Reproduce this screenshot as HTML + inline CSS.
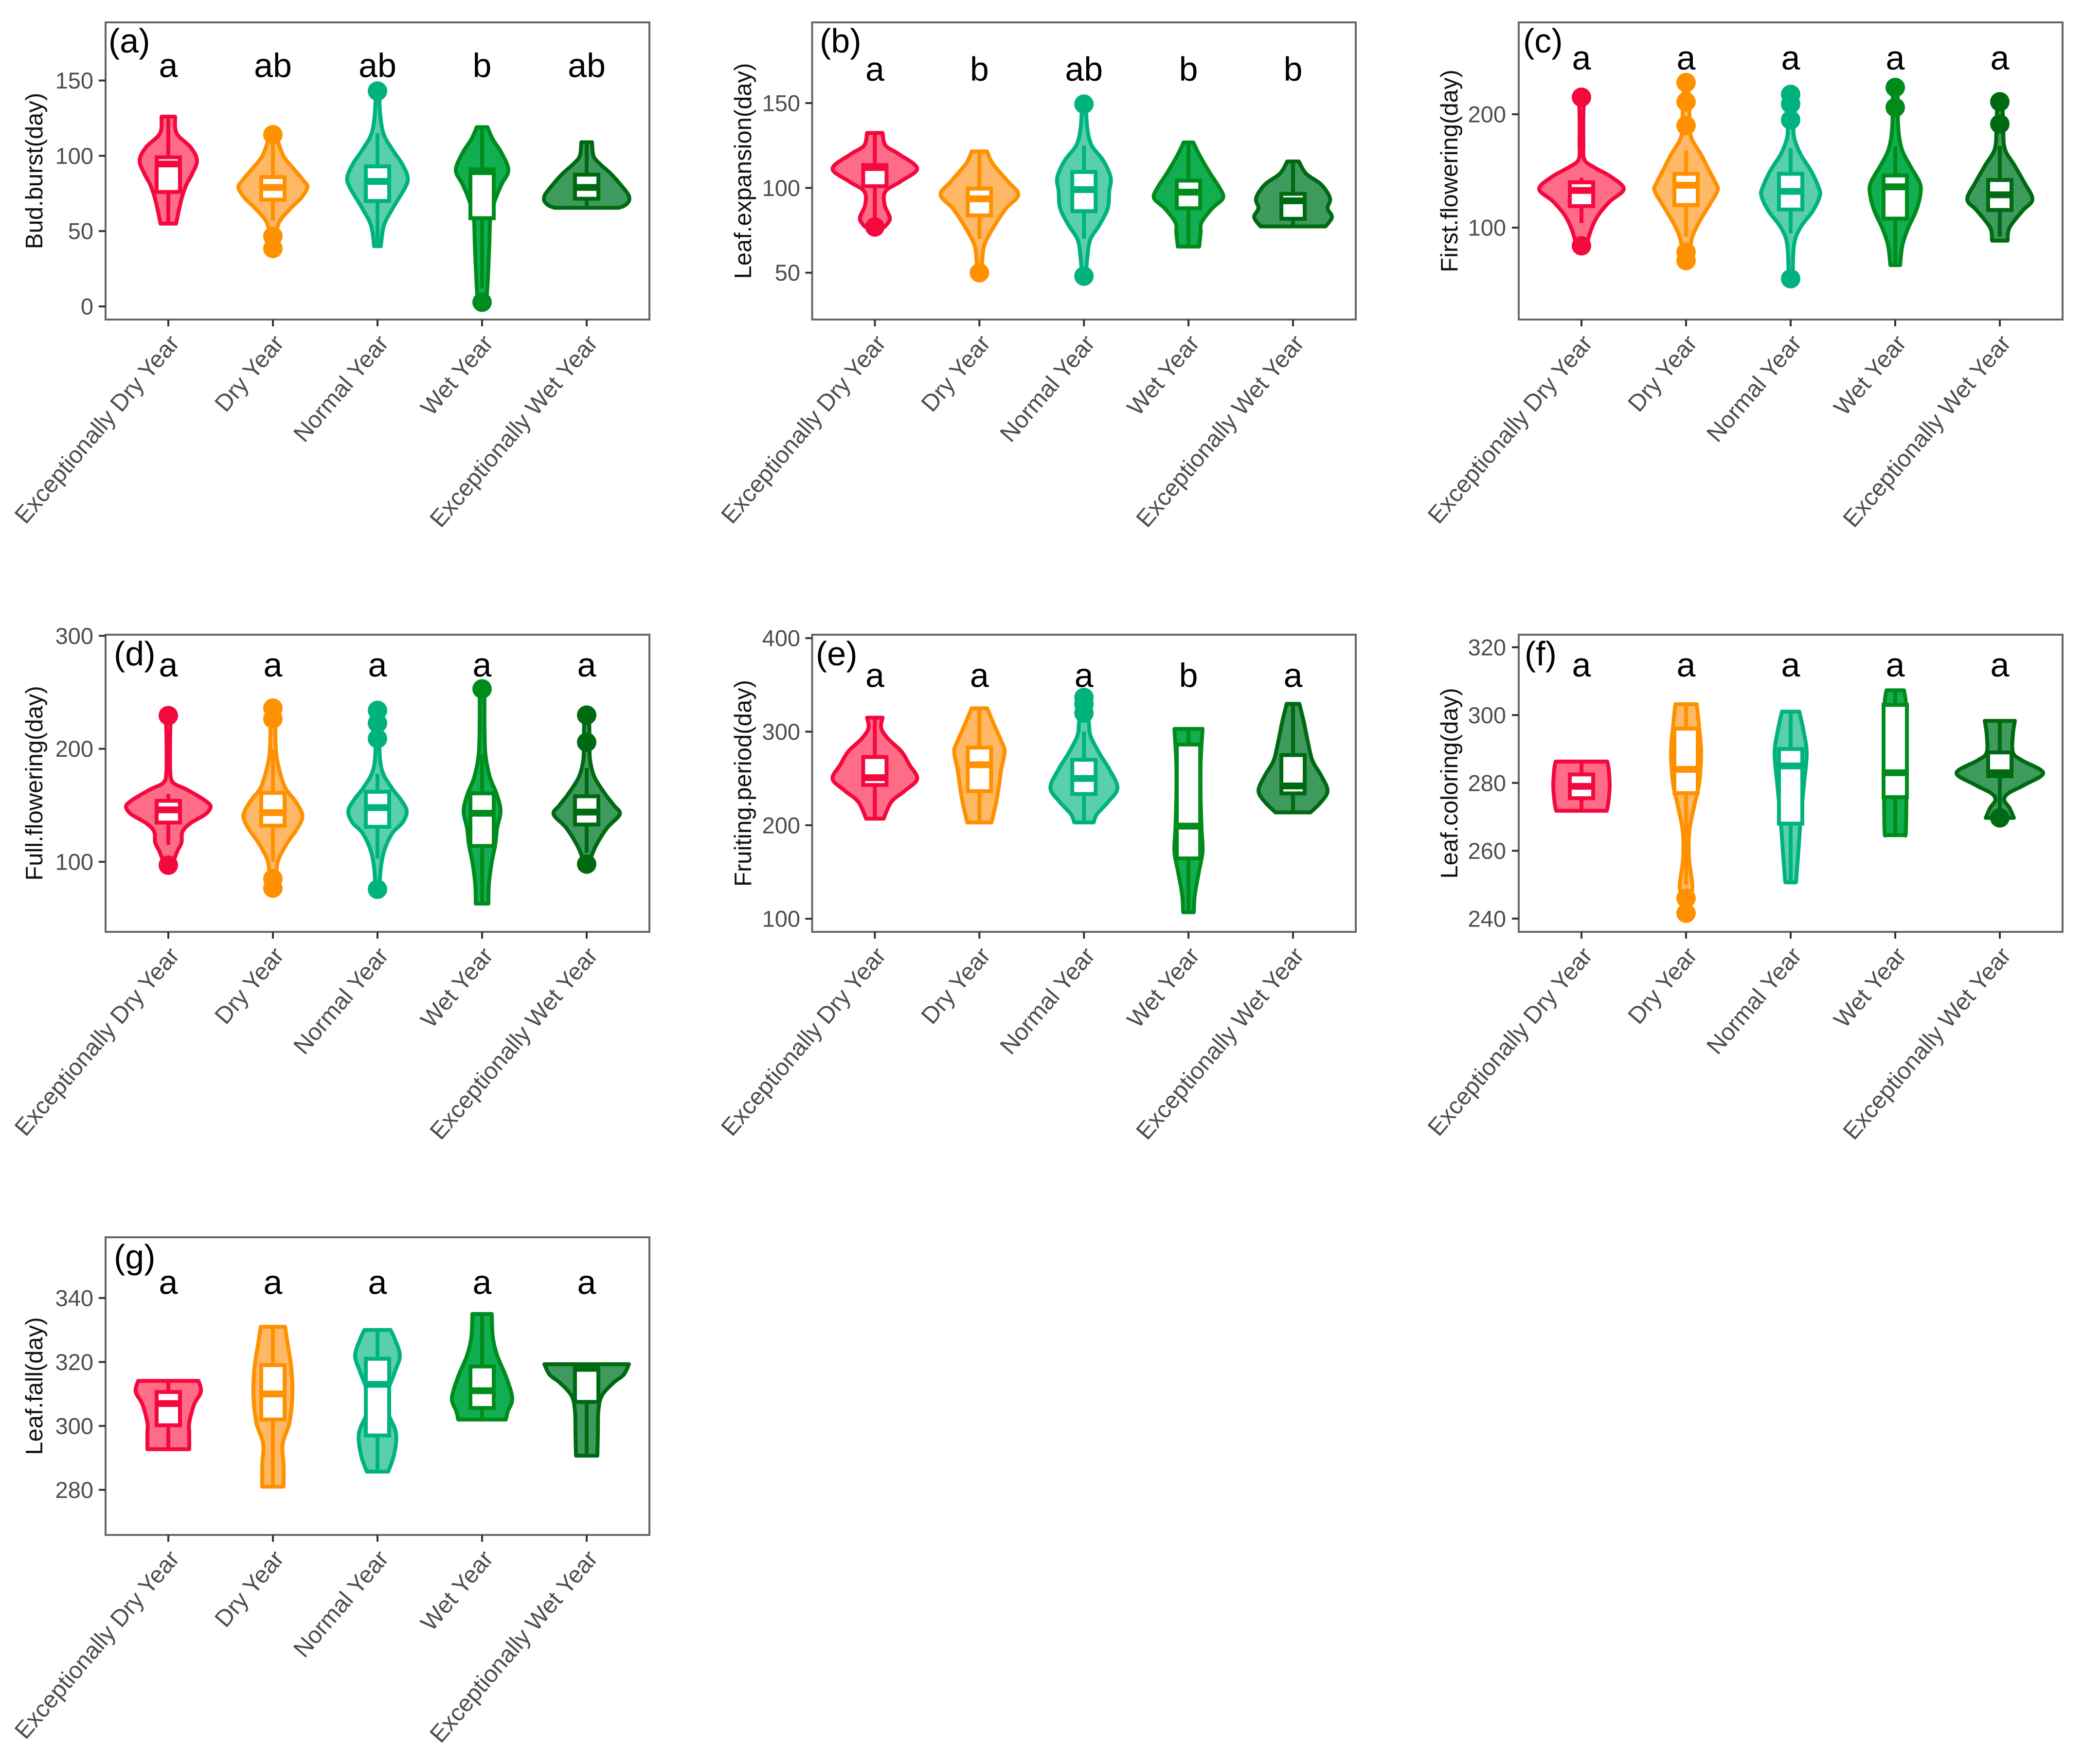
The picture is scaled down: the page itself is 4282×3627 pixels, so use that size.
<!DOCTYPE html>
<html lang="en">
<head>
<meta charset="utf-8">
<title>Phenology violin plots</title>
<style>
html,body{margin:0;padding:0;background:#fff;}
svg{display:block;font-family:"Liberation Sans",Arial,sans-serif;}
</style>
</head>
<body>
<svg id="chart" xmlns="http://www.w3.org/2000/svg" width="4282" height="3627" viewBox="0 0 4282 3627"></svg>
<script>
const categories = ["Exceptionally Dry Year","Dry Year","Normal Year","Wet Year","Exceptionally Wet Year"];

/* Panel (a) Bud.burst */
const aTicks = [0,50,100,150];
const aLetters = ["a","ab","ab","b","ab"];
const aProfiles = [
 [[126,.14],[115,.17],[105.6,.46],[97,.59],[88,.49],[80,.36],[70,.26],[55,.16]],
 [[114,.05],[111,.09],[99.7,.22],[90.5,.45],[83.5,.63],[79,.71],[72,.58],[65,.36],[56,.13],[46.6,.07],[38,.05]],
 [[143,.04],[130,.05],[115,.12],[104,.31],[95,.5],[86,.62],[79,.57],[65,.31],[53.5,.13],[40,.07]],
 [[119,.11],[111,.22],[102,.4],[90.5,.54],[81,.4],[70,.26],[58,.17],[42,.15],[19,.12],[5,.09],[3,.05]],
 [[109,.11],[100,.14],[95,.26],[88,.5],[80,.72],[74,.86],[70,.87],[67,.78],[65.5,.66]]
];
const aBoxes = [[55,76,94.6,99,126],[57,70.9,79,85.9,109],[40,70,83,93,115],[12,58.6,89.5,91,119],[65.5,71.5,79,87.5,109]];
const aOutliers = [[],[114,46.6,38.5],[143],[2.8],[]];

/* Panel (b) Leaf.expansion */
const bTicks = [50,100,150];
const bLetters = ["a","b","ab","b","b"];
const bProfiles = [
 [[132.4,.16],[125,.22],[120,.49],[111.5,.87],[104,.54],[98,.22],[90,.2],[82,.31],[77,.2]],
 [[121.5,.16],[114.5,.27],[104,.58],[96,.8],[88,.55],[77.7,.31],[67,.11],[58,.06],[50,.05]],
 [[149,.04],[135,.07],[125,.16],[116,.4],[106,.55],[98,.52],[88,.49],[77.7,.31],[69.5,.13],[59,.07],[48,.04]],
 [[126.8,.1],[118.6,.24],[108.4,.45],[100,.64],[94,.71],[88,.49],[79.7,.27],[73.5,.25],[65.4,.22]],
 [[115.6,.12],[108.4,.27],[102,.58],[94,.76],[88,.71],[82.8,.8],[77.3,.67]]
];
const bBoxes = [[80,101,112,113.5,132],[70,83.8,93.6,99.6,121],[70,86.3,99,109.4,125],[66,88,97.5,104.3,126],[77,81.8,92.4,96.5,115]];
const bOutliers = [[77],[50],[149.4,48],[],[]];

/* Panel (c) First.flowering */
const cTicks = [100,200];
const cLetters = ["a","a","a","a","a"];
const cProfiles = [
 [[215,.06],[200,.04],[175,.04],[160,.06],[153,.27],[144.5,.62],[134,.87],[123,.58],[110.7,.34],[98.5,.2],[84,.1]],
 [[228,.05],[190,.08],[178,.12],[165,.3],[150,.48],[140,.6],[133,.65],[120,.48],[105,.27],[92,.13],[80,.08],[71,.05]],
 [[217,.05],[195,.06],[180,.07],[165,.2],[150,.42],[135,.58],[128,.6],[115,.46],[100,.2],[85,.07],[55,.04]],
 [[224,.05],[190,.06],[170,.13],[155,.3],[140,.5],[130,.52],[115,.43],[100,.27],[85,.15],[67,.1]],
 [[211,.05],[191,.07],[170,.1],[155,.3],[140,.5],[125,.67],[115,.47],[100,.2],[88.6,.16]]
];
const cBoxes = [[104,119,132.8,140,144],[92,120,137.4,147.5,168],[95,116,132,147.5,170],[67,108,136,146,172],[92,115.6,129,142,172]];
const cOutliers = [[215,84],[228,211,190,78.5,71],[217.5,209,195,55],[223.6,206],[211,191.4]];

/* Panel (d) Full.flowering */
const dTicks = [100,200,300];
const dLetters = ["a","a","a","a","a"];
const dProfiles = [
 [[229,.06],[215,.04],[180,.04],[170,.1],[165,.33],[159,.58],[153.5,.78],[148.7,.87],[142,.76],[134,.45],[126.6,.29],[117,.27],[109,.18],[97,.08]],
 [[236,.05],[200,.06],[180,.14],[165,.26],[155,.44],[145,.58],[138,.6],[128,.48],[115,.27],[100,.1],[85,.07],[77,.05]],
 [[234,.05],[200,.04],[180,.1],[165,.3],[155,.48],[145,.6],[135,.52],[125,.3],[110,.14],[95,.07],[76,.04]],
 [[253,.05],[220,.05],[195,.07],[175,.16],[160,.3],[145,.38],[130,.31],[115,.27],[100,.2],[80,.14],[63,.13]],
 [[230,.05],[205,.06],[190,.07],[175,.16],[160,.38],[150,.56],[142,.68],[130,.42],[115,.2],[105,.1],[98,.06]]
];
const dBoxes = [[115,134.7,146,154,160],[100,132,143.5,161,200],[103,131,148,162,178],[63,114,143,160.6,195],[108,133,144,158,183]];
const dOutliers = [[229.4,97],[236,226.5,85,76.7],[234,222.7,209,75.7],[253],[229.8,205.8,98]];

/* Panel (e) Fruiting.period */
const eTicks = [100,200,300,400];
const eLetters = ["a","a","a","b","a"];
const eProfiles = [
 [[315,.16],[304,.13],[292.6,.27],[278.7,.55],[264.7,.71],[249.6,.87],[237,.62],[225,.34],[207,.18]],
 [[325,.16],[306.5,.31],[290,.45],[278.7,.52],[260,.45],[241.5,.4],[223,.34],[203,.25]],
 [[336,.04],[310,.1],[295,.14],[275,.34],[260,.52],[240,.69],[225,.5],[212,.27],[203,.2]],
 [[303,.29],[287,.27],[264.7,.25],[230,.25],[195,.27],[172,.29],[149,.21],[125.5,.13],[107,.11]],
 [[329.7,.13],[311,.22],[288,.31],[269,.4],[253,.58],[237,.71],[225,.58],[213.7,.36]]
];
const eBoxes = [[207,243,250.8,272.9,315],[203,236.4,264.7,283,325],[203,233.4,250,270,300],[107,164.5,199,286.3,303],[214,234,242,275,329]];
const eOutliers = [[],[],[336.6,329.7,320],[],[]];

/* Panel (f) Leaf.coloring */
const fTicks = [240,260,280,300,320];
const fLetters = ["a","a","a","a","a"];
const fProfiles = [
 [[286.3,.53],[284,.56],[279,.58],[274,.55],[271.8,.52]],
 [[303.2,.22],[296.3,.27],[289,.31],[280,.27],[274,.18],[266,.07],[258,.06],[250,.13],[247,.1],[241,.05]],
 [[301,.18],[295,.27],[288.6,.33],[279,.27],[268,.2],[260,.16],[250.7,.11]],
 [[307.3,.18],[303,.22],[292,.22],[279,.23],[266,.22],[264.6,.2]],
 [[298.3,.31],[294.4,.27],[289,.27],[286.7,.45],[283,.89],[279.6,.53],[277,.18],[275,.09],[272.6,.2],[269.7,.29]]
];
const fBoxes = [[272,275.5,279,282.5,286],[250,277,284,296,303],[251,268,285,290,301],[265,275.8,283,303,307],[272,282,283,289,298]];
const fOutliers = [[],[246,241.6],[],[],[269.7]];

/* Panel (g) Leaf.fall */
const gTicks = [280,300,320,340];
const gLetters = ["a","a","a","a","a"];
const gProfiles = [
 [[314.1,.62],[310.7,.67],[306.7,.53],[301,.43],[298,.43],[292.7,.43]],
 [[331,.25],[325,.31],[318,.38],[309.4,.4],[301,.34],[294.4,.2],[287.6,.22],[281,.22]],
 [[330,.27],[327,.36],[322,.46],[317,.36],[309.4,.18],[304.6,.2],[297.8,.38],[291,.34],[285.7,.22]],
 [[335,.2],[327.8,.22],[322,.31],[315.5,.49],[308.7,.62],[304.6,.53],[302,.49]],
 [[319.3,.87],[316,.76],[313.5,.55],[309.4,.31],[304.6,.24],[297.8,.23],[290.7,.22]]
];
const gBoxes = [[293,300.2,307,310.6,314],[281,302,310,319,331],[286,297,313,321,330],[302,305.6,311,318.6,335],[291,307.5,318,319,319.3]];
const gOutliers = [[],[],[],[],[]];

const strokeColors = ["#F4093F","#FF9100","#00B37E","#008C1C","#006A12"];
const fillColors = ["#FF6C88","#FFB866","#5ACFAC","#12AE52","#3F9A5E"];

const panels = [
 {id:"a",title:"Bud.burst(day)",tag:"(a)",left:217,right:1335,top:46,bottom:657,vmin:-8.7,vmax:188.6,tlx:192,titleX:70,tagX:223,tagY:108,letterY:158.5,ticks:aTicks,letters:aLetters,profiles:aProfiles,boxes:aBoxes,outliers:aOutliers},
 {id:"b",title:"Leaf.expansion(day)",tag:"(b)",left:1669.5,right:2787,top:46,bottom:657,vmin:22.4,vmax:197.6,tlx:1645,titleX:1527,tagX:1685,tagY:108,letterY:166,ticks:bTicks,letters:bLetters,profiles:bProfiles,boxes:bBoxes,outliers:bOutliers},
 {id:"c",title:"First.flowering(day)",tag:"(c)",left:3122,right:4240,top:46,bottom:657,vmin:19,vmax:281,tlx:3096,titleX:2979,tagX:3131,tagY:108,letterY:143,ticks:cTicks,letters:cLetters,profiles:cProfiles,boxes:cBoxes,outliers:cOutliers},
 {id:"d",title:"Full.flowering(day)",tag:"(d)",left:217,right:1335,top:1305,bottom:1916,vmin:38,vmax:301,tlx:192,titleX:70,tagX:234,tagY:1368,letterY:1391,ticks:dTicks,letters:dLetters,profiles:dProfiles,boxes:dBoxes,outliers:dOutliers},
 {id:"e",title:"Fruiting.period(day)",tag:"(e)",left:1669.5,right:2787,top:1305,bottom:1916,vmin:86,vmax:403.7,tlx:1645,titleX:1527,tagX:1677,tagY:1368,letterY:1412.5,ticks:eTicks,letters:eLetters,profiles:eProfiles,boxes:eBoxes,outliers:eOutliers},
 {id:"f",title:"Leaf.coloring(day)",tag:"(f)",left:3122,right:4240,top:1305,bottom:1916,vmin:236.1,vmax:323.7,tlx:3096,titleX:2979,tagX:3134,tagY:1368,letterY:1391,ticks:fTicks,letters:fLetters,profiles:fProfiles,boxes:fBoxes,outliers:fOutliers},
 {id:"g",title:"Leaf.fall(day)",tag:"(g)",left:217,right:1335,top:2544,bottom:3156,vmin:265.9,vmax:359,tlx:192,titleX:70,tagX:234,tagY:2608,letterY:2660.6,ticks:gTicks,letters:gLetters,profiles:gProfiles,boxes:gBoxes,outliers:gOutliers}
];

const NS = "http://www.w3.org/2000/svg";
const root = document.getElementById("chart");
function mk(parent, tag, attrs, text) {
  const node = document.createElementNS(NS, tag);
  for (const k in attrs) node.setAttribute(k, attrs[k]);
  if (text !== undefined) node.textContent = text;
  parent.appendChild(node);
  return node;
}
function slug(s){ return s.toLowerCase().replace(/[^a-z0-9]+/g,"-"); }
function smooth(pts, start) {
  let d = start ? "M" + pts[0][0].toFixed(1) + " " + pts[0][1].toFixed(1) : "L" + pts[0][0].toFixed(1) + " " + pts[0][1].toFixed(1);
  for (let i = 0; i < pts.length - 1; i++) {
    const p0 = pts[Math.max(i-1,0)], p1 = pts[i], p2 = pts[i+1], p3 = pts[Math.min(i+2,pts.length-1)];
    const c1 = [p1[0]+(p2[0]-p0[0])/6, p1[1]+(p2[1]-p0[1])/6];
    const c2 = [p2[0]-(p3[0]-p1[0])/6, p2[1]-(p3[1]-p1[1])/6];
    d += "C" + c1[0].toFixed(1) + " " + c1[1].toFixed(1) + " " + c2[0].toFixed(1) + " " + c2[1].toFixed(1) + " " + p2[0].toFixed(1) + " " + p2[1].toFixed(1);
  }
  return d;
}

panels.forEach(function(p){
  const g = mk(root, "g", {});
  
  
  const band = (p.right - p.left) / 5.2;
  const xScale = function(i){ return p.left + (i + 0.6) * band; };
  const yScale = function(v){ return p.bottom - (v - p.vmin) / (p.vmax - p.vmin) * (p.bottom - p.top); };
  const widthScale = function(d){ return d * band * 100 / 215; };

  const frame = mk(g, "rect", {x:p.left,y:p.top,width:p.right-p.left,height:p.bottom-p.top,fill:"#fff",stroke:"#666",'stroke-width':4});
  
  

  p.ticks.forEach(function(t){
    const tick = mk(g, "line", {x1:p.left-14,x2:p.left,y1:yScale(t),y2:yScale(t),stroke:"#333",'stroke-width':4});
    
    
    const lab = mk(g, "text", {x:p.tlx,y:yScale(t)+16.5,'text-anchor':"end",'font-size':47,fill:"#4D4D4D"}, String(t));
    
    
  });

  const cy = (p.top + p.bottom) / 2;
  const title = mk(g, "text", {x:p.titleX+17,y:cy,'text-anchor':"middle",'font-size':49,fill:"#111",transform:"rotate(-90 "+(p.titleX+17)+" "+cy+")"}, p.title);
  
  

  const tag = mk(g, "text", {x:p.tagX,y:p.tagY,'font-size':70,fill:"#000"}, p.tag);
  
  

  categories.forEach(function(cat, i){
    const cx = xScale(i);
    const color = strokeColors[i];
    const vg = mk(g, "g", {});
    
    

    const prof = p.profiles[i];
    const right = prof.map(function(q){ return [cx + widthScale(q[1]), yScale(q[0])]; });
    const left = prof.map(function(q){ return [cx - widthScale(q[1]), yScale(q[0])]; }).reverse();
    const shape = mk(vg, "path", {d:smooth(right,true)+smooth(left,false)+"Z",fill:fillColors[i],stroke:color,'stroke-width':8,'stroke-linejoin':"round"});
    
    

    const b = p.boxes[i];
    const halfBox = 24;
    const wh = mk(vg, "line", {x1:cx,x2:cx,y1:yScale(b[4]),y2:yScale(b[0]),stroke:color,'stroke-width':8});
    
    
    const box = mk(vg, "rect", {x:cx-halfBox,width:halfBox*2,y:yScale(b[3]),height:yScale(b[1])-yScale(b[3]),fill:"#fff",stroke:color,'stroke-width':8});
    
    
    const med = mk(vg, "line", {x1:cx-halfBox,x2:cx+halfBox,y1:yScale(b[2]),y2:yScale(b[2]),stroke:color,'stroke-width':14});
    
    

    p.outliers[i].forEach(function(v){
      const dot = mk(vg, "circle", {cx:cx,cy:yScale(v),r:20,fill:color});
      
      
    });

    const letter = mk(g, "text", {x:cx,y:p.letterY,'text-anchor':"middle",'font-size':70,fill:"#000"}, p.letters[i]);
    
    

    const xt = mk(g, "line", {x1:cx,x2:cx,y1:p.bottom,y2:p.bottom+14,stroke:"#333",'stroke-width':4});
    
    
    const lx = cx + 25, ly = p.bottom + 50;
    const xl = mk(g, "text", {x:lx,y:ly,'text-anchor':"end",'font-size':49,fill:"#4D4D4D",transform:"rotate(-49.5 "+lx+" "+ly+")"}, cat);
    
    
  });
});
</script>
</body>
</html>
